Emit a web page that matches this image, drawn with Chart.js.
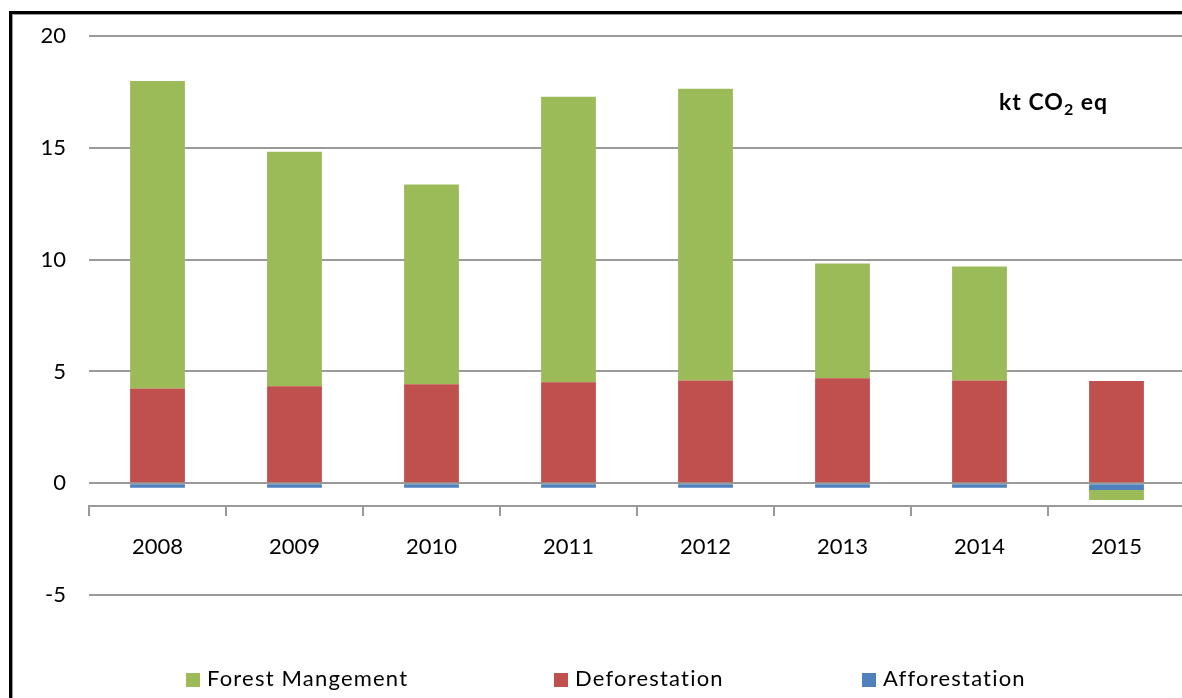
<!DOCTYPE html>
<html>
<head>
<meta charset="utf-8">
<script src="https://cdn.jsdelivr.net/npm/chart.js@4.4.1/dist/chart.umd.min.js"></script>
<style>
    html, body { margin: 0; padding: 0; overflow: hidden; background: #fff; width: 1182px; height: 698px; }
    .frame { position: absolute; left: 9px; top: 11px; width: 1300px; height: 800px;
             border-left: 3px solid #000; border-top: 3px solid #000; box-shadow: inset 1px 1px 0 #9a9a9a; }
    .wrap { position: absolute; left: 0; top: 0; width: 1185px; height: 698px; }
    .unit { position: absolute; left: 999px; top: 87px; font: bold 23px Lato, sans-serif; letter-spacing: 1px; color: #000; white-space: nowrap; }
    .unit sub { font-size: 16px; vertical-align: -5px; line-height: 0; }
    .legend-item { position: absolute; top: 664px; font: 22px Lato, sans-serif; color: #000; white-space: nowrap; letter-spacing: 1.2px; }
    .legend-item span { display: inline-block; width: 14px; height: 14px; margin-right: 7px; vertical-align: -1px; }
</style>
</head>
<body>
<div class="frame"></div>
<div class="wrap"><canvas id="chart"></canvas></div>
<div class="unit">kt CO<sub>2</sub> eq</div>
<div id="legend"></div>
<script>
    // Data
    const years = ['2008', '2009', '2010', '2011', '2012', '2013', '2014', '2015'];
    const afforestation = [-0.2, -0.2, -0.2, -0.2, -0.2, -0.2, -0.2, -0.3];
    const deforestation = [4.24, 4.34, 4.43, 4.52, 4.6, 4.7, 4.6, 4.57];
    const forestManagement = [13.76, 10.49, 8.93, 12.77, 13.05, 5.13, 5.1, -0.45];
    const yTicks = [-5, 0, 5, 10, 15, 20];

    const GREEN = '#9BBB59';
    const RED = '#C0504D';
    const BLUE = '#4F81BD';
    const GRID = '#9a9a9a';
    const FONT = 'Lato';

    const datasets = [
        { label: 'Afforestation', data: afforestation, backgroundColor: BLUE },
        { label: 'Deforestation', data: deforestation, backgroundColor: RED },
        { label: 'Forest Mangement', data: forestManagement, backgroundColor: GREEN }
    ];

    new Chart(document.getElementById('chart'), {
        type: 'bar',
        data: { labels: years, datasets: datasets },
        options: {
            responsive: true,
            maintainAspectRatio: false,
            animation: false,
            layout: { padding: { top: 35, bottom: 103, left: 0, right: 0 } },
            datasets: { bar: { categoryPercentage: 1, barPercentage: 0.4 } },
            plugins: { legend: { display: false }, tooltip: { enabled: false } },
            scales: {
                x: {
                    stacked: true,
                    position: { y: -1 },
                    offset: true,
                    grid: { offset: true, drawOnChartArea: false, drawTicks: true, tickLength: 9, color: GRID, lineWidth: 2 },
                    border: { display: true, color: GRID, width: 2 },
                    ticks: { color: '#000', padding: 19, font: { family: FONT, size: 22 } }
                },
                y: {
                    stacked: true,
                    min: yTicks[0],
                    max: yTicks[yTicks.length - 1],
                    afterBuildTicks: scale => { scale.ticks = yTicks.map(v => ({ value: v })); },
                    afterFit: scale => { scale.width = 89; },
                    grid: { color: GRID, lineWidth: 2, drawTicks: false },
                    border: { display: false },
                    ticks: { color: '#000', padding: 23, font: { family: FONT, size: 22 } }
                }
            }
        }
    });

    // Legend (Excel order), placed like the reference
    const legendOrder = [
        { label: 'Forest Mangement', color: GREEN, left: 186 },
        { label: 'Deforestation', color: RED, left: 554 },
        { label: 'Afforestation', color: BLUE, left: 862 }
    ];
    const legend = document.getElementById('legend');
    legendOrder.forEach(item => {
        const el = document.createElement('div');
        el.className = 'legend-item';
        el.style.left = item.left + 'px';
        el.innerHTML = '<span style="background:' + item.color + '"></span>' + item.label;
        legend.appendChild(el);
    });
</script>
</body>
</html>
